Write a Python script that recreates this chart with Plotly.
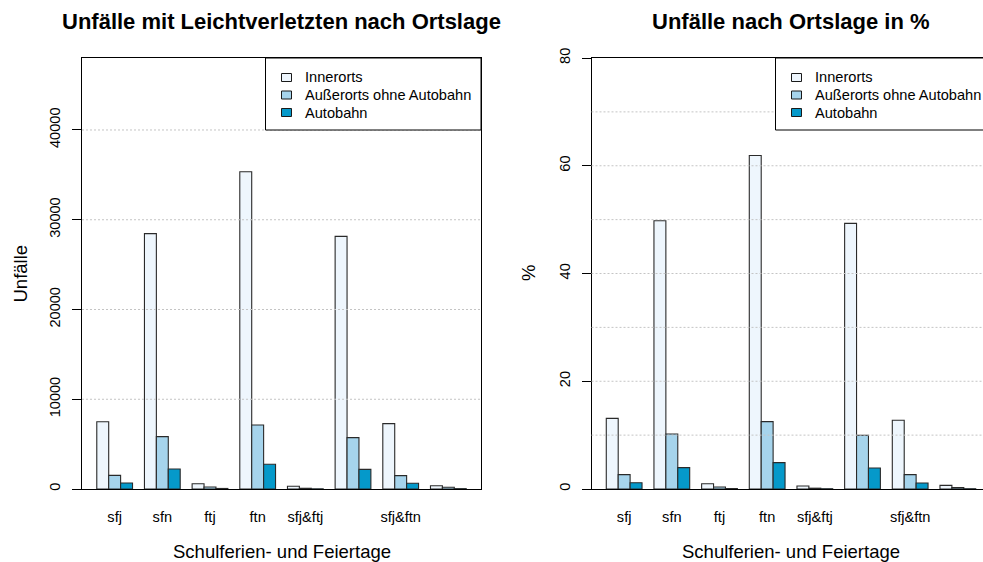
import plotly.graph_objects as go

# ---------------- data ----------------
categories = ["sfj", "sfn", "ftj", "ftn", "sfj&ftj", "sfn&ftj", "sfj&ftn", "sfn&ftn"]
# labels actually printed under the groups (overlapping ones were dropped in the original)
tick_labels = ["sfj", "sfn", "ftj", "ftn", "sfj&ftj", "", "sfj&ftn", ""]

series_names = ["Innerorts", "Außerorts ohne Autobahn", "Autobahn"]

counts_innerorts = [7500, 28450, 590, 35350, 300, 28150, 7280, 370]
counts_ausserorts = [1520, 5830, 220, 7130, 80, 5720, 1490, 190]
counts_autobahn = [670, 2230, 60, 2750, 20, 2190, 640, 40]

pct_innerorts = [13.1, 49.8, 0.98, 61.9, 0.56, 49.3, 12.75, 0.68]
pct_ausserorts = [2.66, 10.2, 0.37, 12.5, 0.15, 9.97, 2.66, 0.25]
pct_autobahn = [1.17, 3.96, 0.10, 4.9, 0.05, 3.9, 1.11, 0.05]

count_ticks = [0, 10000, 20000, 30000, 40000]
pct_ticks = [0, 20, 40, 60, 80]
pct_grid = [10, 20, 30, 40, 50, 60, 70]

colors = ["#EEF6FD", "#A6D4EC", "#0599CA"]

# ---------------- layout helpers ----------------
W, H = 983, 562
FONT = "Liberation Sans, Arial, Helvetica, sans-serif"

def px_x(p):
    return p / W

def px_y(p):
    return (H - p) / H

# group centres (bars of width 1, one unit gap between groups, as in R barplot)
x_pos = [2.5 + 4 * g for g in range(len(categories))]

left_dom = [px_x(82), px_x(481)]
right_dom = [px_x(591.5), 1.0]
y_dom = [px_y(489), px_y(58)]
unit_px = (481 - 82) / 33.48
right_range = [-0.24, -0.24 + (W - 591.5) / unit_px]

fig = go.Figure()

left_series = [counts_innerorts, counts_ausserorts, counts_autobahn]
right_series = [pct_innerorts, pct_ausserorts, pct_autobahn]

BAR_LINE = dict(color="#2a2a2a", width=1.1)

for name, vals, col in zip(series_names, left_series, colors):
    fig.add_trace(go.Bar(
        x=x_pos, y=vals, name=name, xaxis="x", yaxis="y",
        marker=dict(color=col, line=BAR_LINE),
        showlegend=False, hoverinfo="skip"))

for name, vals, col in zip(series_names, right_series, colors):
    fig.add_trace(go.Bar(
        x=x_pos, y=vals, name=name, xaxis="x2", yaxis="y2",
        marker=dict(color=col, line=BAR_LINE),
        showlegend=False, hoverinfo="skip"))

axis_common_x = dict(
    tickmode="array", tickvals=x_pos, ticktext=tick_labels,
    ticks="", showgrid=False, zeroline=False,
    showline=True, linecolor="black", linewidth=1, mirror=True,
    tickfont=dict(family=FONT, size=14.6, color="black"),
    ticklabelstandoff=14, fixedrange=True,
)

fig.update_layout(
    width=W, height=H,
    margin=dict(l=0, r=0, t=0, b=0, autoexpand=False),
    paper_bgcolor="white", plot_bgcolor="white",
    barmode="group", bargap=0.25, bargroupgap=0,
    font=dict(family=FONT, color="black"),
    showlegend=False,
    xaxis=dict(domain=left_dom, range=[-0.24, 33.24], anchor="y", **axis_common_x),
    xaxis2=dict(domain=right_dom, range=right_range, anchor="y2", **axis_common_x),
    yaxis=dict(
        domain=y_dom, range=[0, 48020], anchor="x",
        tickmode="array", tickvals=count_ticks, ticktext=[str(v) for v in count_ticks],
        tickangle=-90, ticks="outside", ticklen=9, tickcolor="black", tickwidth=1,
        showgrid=False, zeroline=False,
        showline=True, linecolor="black", linewidth=1, mirror=True,
        tickfont=dict(family=FONT, size=14.6, color="black"),
        ticklabelstandoff=6, fixedrange=True,
    ),
    yaxis2=dict(
        domain=y_dom, range=[0, 80], anchor="x2",
        tickmode="array", tickvals=pct_ticks, ticktext=[str(v) for v in pct_ticks],
        tickangle=-90, ticks="outside", ticklen=9, tickcolor="black", tickwidth=1,
        showgrid=False, zeroline=False,
        showline=True, linecolor="black", linewidth=1, mirror=False,
        tickfont=dict(family=FONT, size=14.6, color="black"),
        ticklabelstandoff=6, fixedrange=True,
    ),
)

GRID = dict(color="#C4C4C4", width=1, dash="2px,2px")
shapes = []
# dotted grid lines drawn above the bars (as in the original)
for v in count_ticks[1:]:
    shapes.append(dict(type="line", xref="x domain", yref="y", x0=0, x1=1, y0=v, y1=v,
                       line=GRID, layer="above"))
for v in pct_grid:
    shapes.append(dict(type="line", xref="x2 domain", yref="y2", x0=0, x1=1, y0=v, y1=v,
                       line=GRID, layer="above"))

ann = []

# legends (R-style boxed legend, top-right of each panel)
def add_legend(box_left, box_right):
    shapes.append(dict(type="rect", xref="paper", yref="paper",
                       x0=px_x(box_left), x1=px_x(box_right), y0=px_y(130), y1=px_y(58),
                       fillcolor="white", line=dict(color="black", width=1), layer="above"))
    for i, (name, col) in enumerate(zip(series_names, colors)):
        cy = 77.5 + 17.5 * i
        cx = box_left + 21
        shapes.append(dict(type="rect", xref="paper", yref="paper",
                           x0=px_x(cx - 5), x1=px_x(cx + 5), y0=px_y(cy + 4), y1=px_y(cy - 4),
                           fillcolor=col, line=dict(color="#1a1a1a", width=1), layer="above"))
        ann.append(dict(text=name, xref="paper", yref="paper",
                        x=px_x(box_left + 37.5), y=px_y(cy), xanchor="left", yanchor="middle",
                        showarrow=False, font=dict(family=FONT, size=14.6, color="black")))

add_legend(265.5, 481)
add_legend(775.5, 995)

# titles
ann.append(dict(text="<b>Unfälle mit Leichtverletzten nach Ortslage</b>", xref="paper", yref="paper",
                x=px_x(281.5), y=px_y(21), xanchor="center", yanchor="middle", showarrow=False,
                font=dict(family=FONT, size=22, color="black")))
ann.append(dict(text="<b>Unfälle nach Ortslage in %</b>", xref="paper", yref="paper",
                x=px_x(790.5), y=px_y(21), xanchor="center", yanchor="middle", showarrow=False,
                font=dict(family=FONT, size=22, color="black")))
# x-axis titles
for cx in (281.5, 790.5):
    ann.append(dict(text="Schulferien- und Feiertage", xref="paper", yref="paper",
                    x=px_x(cx), y=px_y(551), xanchor="center", yanchor="middle", showarrow=False,
                    font=dict(family=FONT, size=18.5, color="black")))
# y-axis titles
ann.append(dict(text="Unfälle", xref="paper", yref="paper", textangle=-90,
                x=px_x(20), y=px_y(273.5), xanchor="center", yanchor="middle", showarrow=False,
                font=dict(family=FONT, size=18.5, color="black")))
ann.append(dict(text="%", xref="paper", yref="paper", textangle=-90,
                x=px_x(528.5), y=px_y(273.5), xanchor="center", yanchor="middle", showarrow=False,
                font=dict(family=FONT, size=18.5, color="black")))

fig.update_layout(shapes=shapes, annotations=ann)

fig.write_html("out.html",
               config={"displayModeBar": False, "staticPlot": True},
               post_script="document.body.style.margin='0';document.body.style.padding='0';")
